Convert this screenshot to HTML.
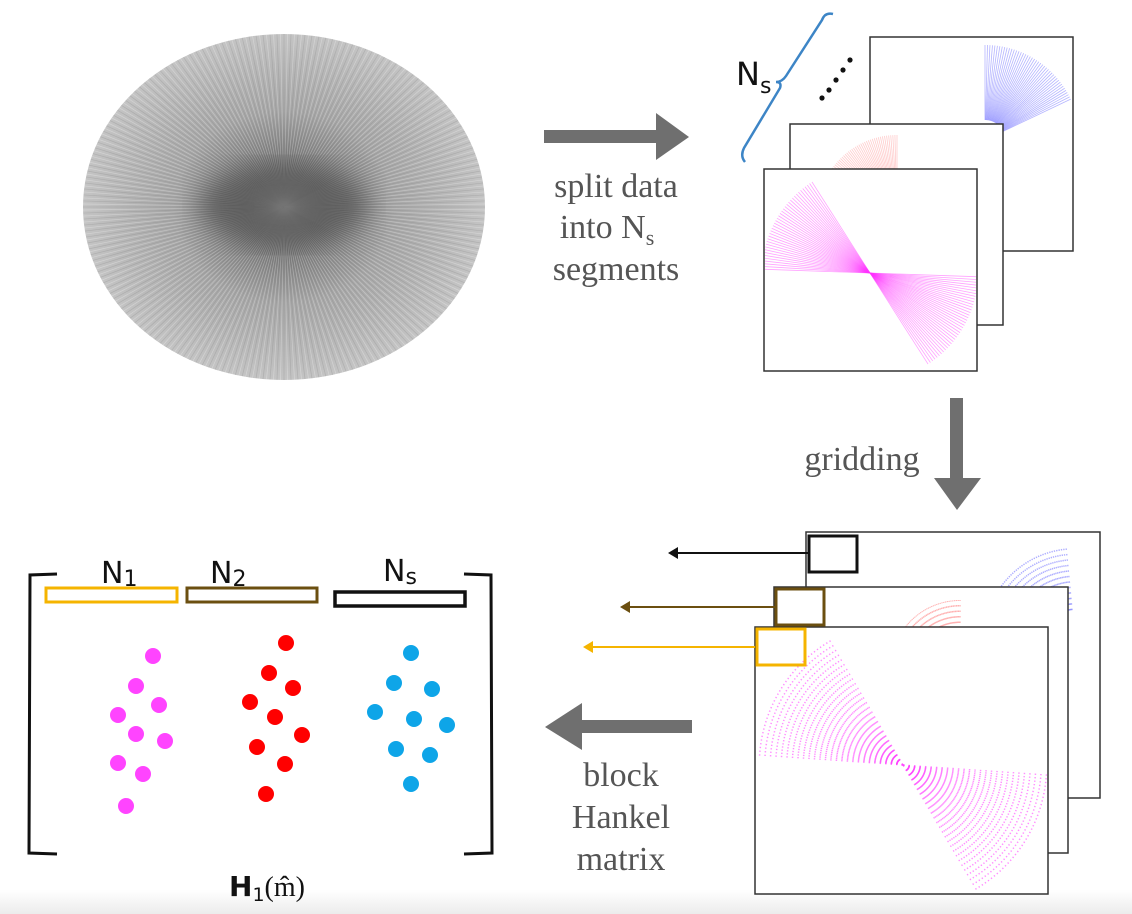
<!DOCTYPE html>
<html><head><meta charset="utf-8"><style>
html,body{margin:0;padding:0;background:#fff;}
body{width:1132px;height:914px;position:relative;overflow:hidden;}
svg{position:absolute;left:0;top:0;}
.s{font-family:"Liberation Serif",serif;fill:#555;font-size:34px;}
.c{font-family:"DejaVu Sans","Liberation Sans",sans-serif;fill:#111;}
</style></head><body>
<svg id="g" width="1132" height="914" viewBox="0 0 1132 914">
<defs>
<radialGradient id="rg" cx="50%" cy="50%" r="50%">
<stop offset="0" stop-color="#5a5a5a"/>
<stop offset="0.2" stop-color="#666"/>
<stop offset="0.38" stop-color="#8a8a8a"/>
<stop offset="0.55" stop-color="#a6a6a6"/>
<stop offset="1" stop-color="#c4c4c4"/>
</radialGradient>
<filter id="bl"><feGaussianBlur stdDeviation="12"/></filter>
<linearGradient id="bot" x1="0" y1="0" x2="0" y2="1"><stop offset="0" stop-color="#fff"/><stop offset="1" stop-color="#ececec"/></linearGradient>
<clipPath id="c1"><rect x="871" y="38" width="201" height="212"/></clipPath>
<clipPath id="c2"><rect x="791" y="125" width="211" height="199"/></clipPath>
<clipPath id="c3"><rect x="765" y="170" width="211" height="200"/></clipPath>
<clipPath id="d1"><rect x="807" y="533" width="292" height="264"/></clipPath>
<clipPath id="d2"><rect x="775" y="588" width="292" height="264"/></clipPath>
<clipPath id="d3"><rect x="756" y="628" width="291" height="265"/></clipPath>
</defs>
<rect x="0" y="890" width="1132" height="24" fill="url(#bot)"/>
<ellipse cx="284" cy="207" rx="201" ry="173" fill="url(#rg)"/>
<g id="rad" stroke-width="0.8"></g>
<ellipse cx="284" cy="205" rx="85" ry="42" fill="#555" opacity="0.7" filter="url(#bl)"/>

<rect x="544" y="130" width="116" height="13" fill="#6f6f6f"/>
<polygon points="656,113 689,137 656,160" fill="#6f6f6f"/>
<text class="s" x="616" y="197" text-anchor="middle">split data</text>
<text class="s" x="607" y="238" text-anchor="middle">into N<tspan font-size="22" dy="7">s</tspan></text>
<text class="s" x="616" y="280" text-anchor="middle">segments</text>

<rect x="870" y="37" width="203" height="214" fill="#fff" stroke="#333" stroke-width="1.5"/>
<g id="blue" clip-path="url(#c1)"></g>
<rect x="790" y="124" width="213" height="201" fill="#fff" stroke="#333" stroke-width="1.5"/>
<g id="red" clip-path="url(#c2)"></g>
<rect x="764" y="169" width="213" height="202" fill="#fff" stroke="#333" stroke-width="1.5"/>
<g id="mag" clip-path="url(#c3)"></g>
<path d="M833,14 Q825,12 822,20 L786,76 Q782,82 776,82 Q782,82 780,88 L744,148 Q740,156 745,162" fill="none" stroke="#3d85c6" stroke-width="2.5"/>
<text class="c" x="736" y="85" font-size="32">N<tspan font-size="22" dy="8">s</tspan></text>
<g fill="#111"><circle cx="850" cy="60" r="2.6"/><circle cx="843" cy="70" r="2.6"/><circle cx="836" cy="80" r="2.6"/><circle cx="829" cy="90" r="2.6"/><circle cx="822" cy="98" r="2.6"/></g>

<rect x="950" y="398" width="13" height="82" fill="#6f6f6f"/>
<polygon points="934,478 981,478 957,510" fill="#6f6f6f"/>
<text class="s" x="862" y="470" text-anchor="middle">gridding</text>

<rect x="806" y="532" width="294" height="266" fill="#fff" stroke="#333" stroke-width="1.5"/>
<g id="blue2" clip-path="url(#d1)"></g>
<rect x="774" y="587" width="294" height="266" fill="#fff" stroke="#333" stroke-width="1.5"/>
<g id="red2" clip-path="url(#d2)"></g>
<rect x="755" y="627" width="293" height="267" fill="#fff" stroke="#333" stroke-width="1.5"/>
<g id="mag2" clip-path="url(#d3)"></g>
<rect x="809" y="536" width="48" height="36" fill="none" stroke="#111" stroke-width="3"/>
<rect x="776" y="589" width="48" height="36" fill="none" stroke="#6b4f10" stroke-width="3"/>
<rect x="757" y="629" width="48" height="36" fill="none" stroke="#f5b400" stroke-width="3"/>
<line x1="808" y1="553" x2="676" y2="553" stroke="#111" stroke-width="2"/><polygon points="668,553 678,547 678,559" fill="#111"/>
<line x1="775" y1="607" x2="628" y2="607" stroke="#6b4f10" stroke-width="2"/><polygon points="620,607 630,601 630,613" fill="#6b4f10"/>
<line x1="755" y1="647" x2="591" y2="647" stroke="#f5b400" stroke-width="2"/><polygon points="583,647 593,641 593,653" fill="#f5b400"/>

<rect x="580" y="720" width="112" height="13" fill="#6f6f6f"/>
<polygon points="582,703 545,727 582,750" fill="#6f6f6f"/>
<text class="s" x="621" y="786" text-anchor="middle">block</text>
<text class="s" x="621" y="828" text-anchor="middle">Hankel</text>
<text class="s" x="621" y="870" text-anchor="middle">matrix</text>

<path d="M57,574 L30,575 L29,853 L57,854" fill="none" stroke="#111" stroke-width="3"/>
<path d="M464,574 L491,575 L492,853 L464,854" fill="none" stroke="#111" stroke-width="3"/>
<rect x="46" y="588" width="131" height="14" fill="none" stroke="#f5b400" stroke-width="3"/>
<rect x="187" y="588" width="130" height="14" fill="none" stroke="#6b4f10" stroke-width="3"/>
<rect x="335" y="592" width="130" height="14" fill="none" stroke="#111" stroke-width="3.5"/>
<text class="c" x="101" y="583" font-size="30">N<tspan font-size="22" dy="3">1</tspan></text>
<text class="c" x="210" y="583" font-size="30">N<tspan font-size="22" dy="3">2</tspan></text>
<text class="c" x="383" y="581" font-size="30">N<tspan font-size="22" dy="3">s</tspan></text>
<g fill="#ff44ff"><circle cx="153" cy="656" r="8"/><circle cx="136" cy="686" r="8"/><circle cx="159" cy="705" r="8"/><circle cx="118" cy="715" r="8"/><circle cx="136" cy="734" r="8"/><circle cx="165" cy="741" r="8"/><circle cx="118" cy="763" r="8"/><circle cx="143" cy="774" r="8"/><circle cx="126" cy="806" r="8"/></g>
<g fill="#f00"><circle cx="286" cy="643" r="8"/><circle cx="269" cy="673" r="8"/><circle cx="293" cy="688" r="8"/><circle cx="250" cy="702" r="8"/><circle cx="275" cy="717" r="8"/><circle cx="302" cy="735" r="8"/><circle cx="257" cy="747" r="8"/><circle cx="285" cy="764" r="8"/><circle cx="266" cy="794" r="8"/></g>
<g fill="#0ea5e8"><circle cx="411" cy="653" r="8"/><circle cx="394" cy="683" r="8"/><circle cx="432" cy="689" r="8"/><circle cx="375" cy="712" r="8"/><circle cx="414" cy="719" r="8"/><circle cx="447" cy="725" r="8"/><circle cx="396" cy="749" r="8"/><circle cx="430" cy="755" r="8"/><circle cx="411" cy="784" r="8"/></g>
<text class="c" x="229" y="896" font-size="28" font-weight="bold">H<tspan font-size="19" dy="5" font-weight="normal">1</tspan><tspan dy="-5" font-weight="normal" font-family="Liberation Serif, serif">(m̂)</tspan></text>
</svg>
<script>
var NS="http://www.w3.org/2000/svg";
function L(g,x1,y1,x2,y2,c,w,o,dash){var l=document.createElementNS(NS,"line");l.setAttribute("x1",x1);l.setAttribute("y1",y1);l.setAttribute("x2",x2);l.setAttribute("y2",y2);l.setAttribute("stroke",c);l.setAttribute("stroke-width",w);l.setAttribute("stroke-opacity",o);if(dash)l.setAttribute("stroke-dasharray",dash);g.appendChild(l);}
var rad=document.getElementById("rad");
for(var i=0;i<360;i++){var a=i*Math.PI/180;L(rad,284,207,284+201*Math.cos(a),207+173*Math.sin(a),i%2?"#fff":"#777",0.7,i%2?0.3:0.25);}
function fan(id,cx,cy,a0,a1,r0,r,c,o,w,dash,both){var g=document.getElementById(id);for(var a=a0;a<=a1;a+=1.5){var t=a*Math.PI/180;L(g,cx+r0*Math.cos(t),cy+r0*Math.sin(t),cx+r*Math.cos(t),cy+r*Math.sin(t),c,w,o,dash);if(both)L(g,cx-r0*Math.cos(t),cy-r0*Math.sin(t),cx-r*Math.cos(t),cy-r*Math.sin(t),c,w,o,dash);}}
fan("blue",985,140,-90,-25,20,95,"#5a5aff",0.45,0.8);
fan("red",897,215,-150,-90,45,80,"#ff8080",0.4,0.8);
fan("mag",870,273,-178,-122,0,108,"#ff33ff",0.45,0.8,null,true);
fan("blue2",1075,640,-160,-95,30,95,"#6a6aff",0.55,1.3,"1.5 4");
fan("red2",960,670,-150,-90,25,70,"#ff7070",0.55,1.3,"1.5 4");
fan("mag2",903,765,-176,-120,0,148,"#ff44ff",0.6,1.3,"1.5 4",true);
</script>
</body></html>
